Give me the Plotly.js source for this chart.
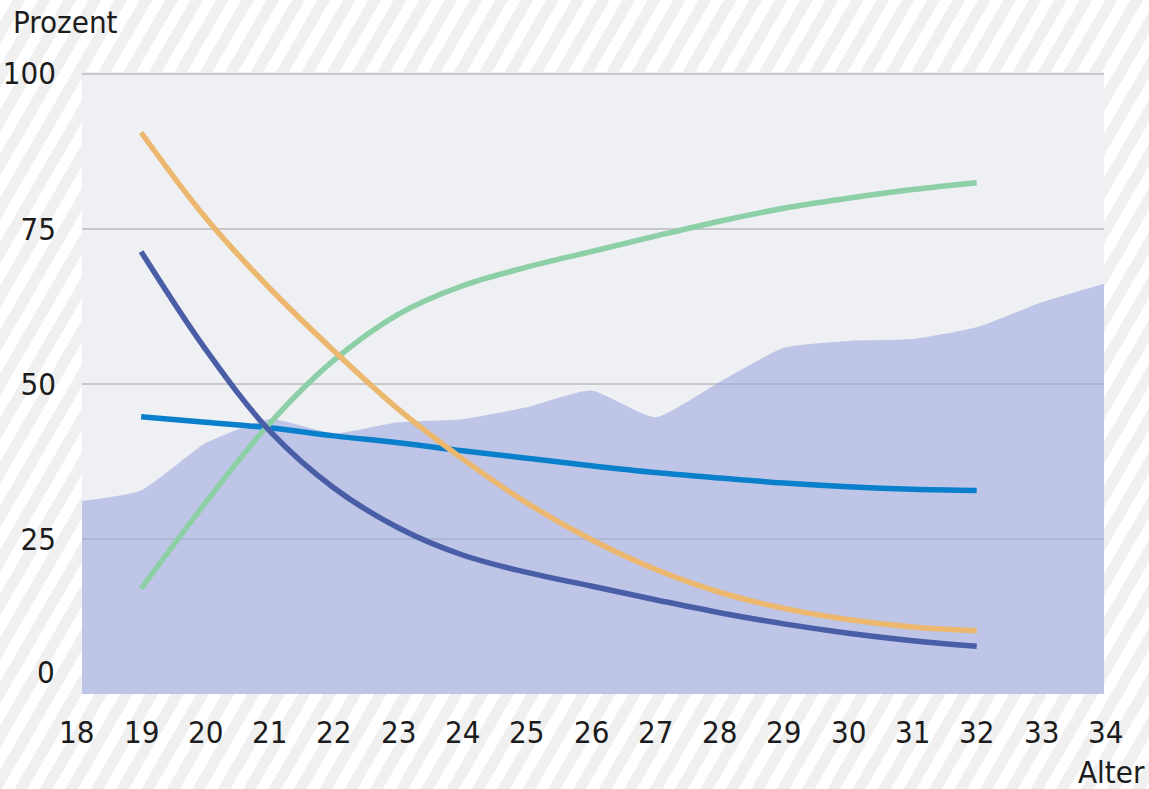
<!DOCTYPE html>
<html>
<head>
<meta charset="utf-8">
<script src="https://cdn.plot.ly/plotly-3.0.1.min.js"></script>
<style>
  html, body { margin: 0; padding: 0; }
  body {
    width: 1149px; height: 789px; overflow: hidden;
    background: repeating-linear-gradient(120deg, #ffffff 0px, #ffffff 11px, #f0f0f0 11px, #f0f0f0 22px);
  }
  #chart { width: 1149px; height: 789px; }
</style>
</head>
<body>
<div id="chart"></div>
<script>
// ---- data ----
const ageTicks = [18, 19, 20, 21, 22, 23, 24, 25, 26, 27, 28, 29, 30, 31, 32, 33, 34];
const yTicks = [25, 50, 75, 100];

const areaAges = [18, 19, 20, 21, 22, 23, 24, 25, 26, 27, 28, 29, 30, 31, 32, 33, 34];
const areaValues = [31.0, 32.8, 40.4, 44.3, 42.0, 43.8, 44.3, 46.2, 48.9, 44.6, 50.3, 55.8, 56.9, 57.2, 59.1, 63.1, 66.2];

const lineAges = [19, 20, 21, 22, 23, 24, 25, 26, 27, 28, 29, 30, 31, 32];
const orangeValues = [90.5, 76.8, 65.4, 55.3, 45.9, 37.9, 30.8, 24.9, 20.1, 16.4, 13.8, 12.0, 10.8, 10.2];
const darkBlueValues = [71.3, 55.6, 42.4, 33.2, 26.8, 22.4, 19.6, 17.4, 15.2, 13.1, 11.3, 9.8, 8.6, 7.7];
const greenValues = [17.0, 30.8, 43.6, 53.8, 61.2, 65.8, 68.8, 71.3, 73.8, 76.2, 78.3, 79.9, 81.3, 82.4];
const lightBlueValues = [44.7, 43.8, 42.9, 41.6, 40.5, 39.2, 38.0, 36.8, 35.7, 34.8, 34.0, 33.4, 33.0, 32.8];

// ---- styles ----
const FONT = '"Liberation Sans Narrow", "DejaVu Sans Condensed", "Open Sans", sans-serif';
const FS = 31;
const TXT = '#1c1c1c';
const X_RANGE = [18.08, 33.98];

const traces = [
  {
    x: areaAges, y: areaValues, type: 'scatter', mode: 'lines',
    fill: 'tozeroy', fillcolor: 'rgba(159,168,221,0.6)',
    line: {width: 0, shape: 'spline', smoothing: 0.5, color: 'rgba(0,0,0,0)'},
    hoverinfo: 'skip', showlegend: false
  },
  {
    x: lineAges, y: lightBlueValues, type: 'scatter', mode: 'lines',
    line: {color: '#0a80cc', width: 5.5, shape: 'spline', smoothing: 1}, showlegend: false
  },
  {
    x: lineAges, y: greenValues, type: 'scatter', mode: 'lines',
    line: {color: '#8dcfa6', width: 5.5, shape: 'spline', smoothing: 1}, showlegend: false
  },
  {
    x: lineAges, y: orangeValues, type: 'scatter', mode: 'lines',
    line: {color: '#ecb86f', width: 5.5, shape: 'spline', smoothing: 1}, showlegend: false
  },
  {
    x: lineAges, y: darkBlueValues, type: 'scatter', mode: 'lines',
    line: {color: '#4a5ea7', width: 5.5, shape: 'spline', smoothing: 1}, showlegend: false
  }
];

const annotations = ageTicks.map(a => ({
  x: (a - X_RANGE[0]) / (X_RANGE[1] - X_RANGE[0]), xref: 'paper', y: 0, yref: 'paper', yshift: -38,
  text: String(a), showarrow: false, xanchor: 'center', yanchor: 'middle',
  font: {family: FONT, size: FS, color: TXT}
}));
annotations.push({
  x: 0, xref: 'paper', xshift: -25, y: 0, yref: 'y', yshift: 22,
  text: '0', showarrow: false, xanchor: 'right', yanchor: 'middle',
  font: {family: FONT, size: FS, color: TXT}
});
annotations.push({
  x: 0, xref: 'paper', xshift: -71, y: 1, yref: 'paper', yshift: 50,
  text: 'Prozent', showarrow: false, xanchor: 'left', yanchor: 'middle',
  font: {family: FONT, size: FS, color: TXT}
});
annotations.push({
  x: 1, xref: 'paper', xshift: 43, y: 0, yref: 'paper', yshift: -78,
  text: 'Alter', showarrow: false, xanchor: 'right', yanchor: 'middle',
  font: {family: FONT, size: FS, color: TXT}
});

const layout = {
  width: 1149, height: 789,
  margin: {l: 82, r: 45, t: 72, b: 95},
  paper_bgcolor: 'rgba(0,0,0,0)',
  plot_bgcolor: '#eff0f4',
  showlegend: false,
  xaxis: {
    range: X_RANGE, showticklabels: false, showgrid: false,
    zeroline: false, showline: false, ticks: '', fixedrange: true
  },
  yaxis: {
    range: [0, 100.25], tickvals: yTicks, ticktext: yTicks.map(String),
    showgrid: true, gridcolor: '#c8c8cc', gridwidth: 2,
    zeroline: false, showline: false, ticks: '', ticklabelstandoff: 25,
    tickfont: {family: FONT, size: FS, color: TXT}, fixedrange: true
  },
  annotations: annotations
};

Plotly.newPlot('chart', traces, layout, {displayModeBar: false, staticPlot: true});
</script>
</body>
</html>
